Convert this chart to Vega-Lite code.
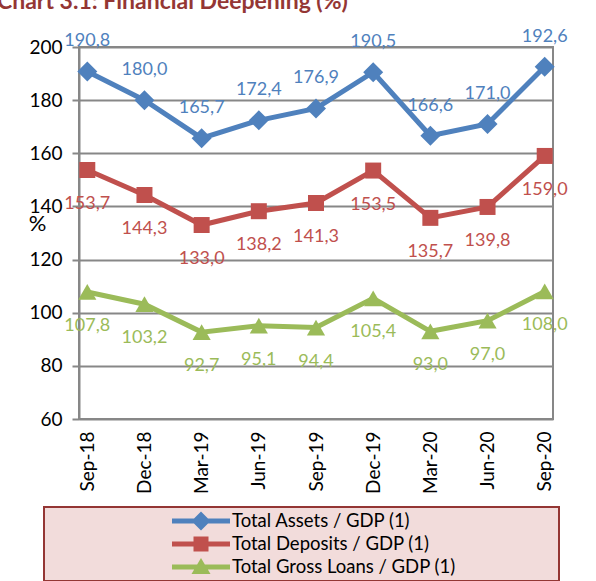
{
  "$schema": "https://vega.github.io/schema/vega-lite/v6.json",
  "width": 474,
  "height": 372,
  "autosize": {"type": "none"},
  "padding": {"left": 79, "top": 47, "right": 43, "bottom": 162},
  "background": "white",
  "title": {"text": "Chart 3.1: Financial Deepening (%)", "anchor": "start", "frame": "group", "dx": -82, "dy": -10, "fontSize": 23, "fontWeight": "bold", "color": "#943634", "font": "Lato"},
  "data": {"values": [
    {"date": "Sep-18", "series": "Total Assets / GDP (1)", "value": 190.8},
    {"date": "Dec-18", "series": "Total Assets / GDP (1)", "value": 180.0},
    {"date": "Mar-19", "series": "Total Assets / GDP (1)", "value": 165.7},
    {"date": "Jun-19", "series": "Total Assets / GDP (1)", "value": 172.4},
    {"date": "Sep-19", "series": "Total Assets / GDP (1)", "value": 176.9},
    {"date": "Dec-19", "series": "Total Assets / GDP (1)", "value": 190.5},
    {"date": "Mar-20", "series": "Total Assets / GDP (1)", "value": 166.6},
    {"date": "Jun-20", "series": "Total Assets / GDP (1)", "value": 171.0},
    {"date": "Sep-20", "series": "Total Assets / GDP (1)", "value": 192.6},
    {"date": "Sep-18", "series": "Total Deposits / GDP (1)", "value": 153.7},
    {"date": "Dec-18", "series": "Total Deposits / GDP (1)", "value": 144.3},
    {"date": "Mar-19", "series": "Total Deposits / GDP (1)", "value": 133.0},
    {"date": "Jun-19", "series": "Total Deposits / GDP (1)", "value": 138.2},
    {"date": "Sep-19", "series": "Total Deposits / GDP (1)", "value": 141.3},
    {"date": "Dec-19", "series": "Total Deposits / GDP (1)", "value": 153.5},
    {"date": "Mar-20", "series": "Total Deposits / GDP (1)", "value": 135.7},
    {"date": "Jun-20", "series": "Total Deposits / GDP (1)", "value": 139.8},
    {"date": "Sep-20", "series": "Total Deposits / GDP (1)", "value": 159.0},
    {"date": "Sep-18", "series": "Total Gross Loans / GDP (1)", "value": 107.8},
    {"date": "Dec-18", "series": "Total Gross Loans / GDP (1)", "value": 103.2},
    {"date": "Mar-19", "series": "Total Gross Loans / GDP (1)", "value": 92.7},
    {"date": "Jun-19", "series": "Total Gross Loans / GDP (1)", "value": 95.1},
    {"date": "Sep-19", "series": "Total Gross Loans / GDP (1)", "value": 94.4},
    {"date": "Dec-19", "series": "Total Gross Loans / GDP (1)", "value": 105.4},
    {"date": "Mar-20", "series": "Total Gross Loans / GDP (1)", "value": 93.0},
    {"date": "Jun-20", "series": "Total Gross Loans / GDP (1)", "value": 97.0},
    {"date": "Sep-20", "series": "Total Gross Loans / GDP (1)", "value": 108.0}
  ]},
  "encoding": {
    "x": {"field": "date", "type": "ordinal", "sort": null,
      "scale": {"type": "point", "padding": 0.145},
      "axis": {"title": null, "labelAngle": 270, "labelAlign": "right", "labelBaseline": "middle", "labelPadding": 12, "ticks": false, "domain": false, "grid": false, "labelFontSize": 19, "labelFont": "Lato", "labelColor": "black"}},
    "y": {"field": "value", "type": "quantitative",
      "scale": {"domain": [60, 200], "nice": false, "zero": false},
      "axis": {"values": [60, 80, 100, 120, 140, 160, 180, 200], "format": "d", "title": "%", "titleAngle": 0, "titleX": -42, "titleY": 176, "titleFontSize": 22, "titleFontWeight": "normal", "titleFont": "Lato", "titleColor": "black", "titleAlign": "center", "titleBaseline": "middle",
        "labelFontSize": 19, "labelFont": "Lato", "labelColor": "black", "labelPadding": 10, "tickSize": 7, "tickWidth": 2, "tickColor": "#878787", "domainColor": "#878787", "domainWidth": 2, "gridColor": "#878787", "gridWidth": 2}}
  },
  "layer": [
    {
      "mark": {"type": "line", "strokeWidth": 5},
      "encoding": {
        "color": {"field": "series", "type": "nominal",
          "scale": {"domain": ["Total Assets / GDP (1)", "Total Deposits / GDP (1)", "Total Gross Loans / GDP (1)"], "range": ["#4F81BD", "#C0504D", "#9BBB59"]},
          "legend": {
            "orient": "none", "legendX": -35, "legendY": 460, "direction": "vertical",
            "title": null,
            "fillColor": "#F2DCDB", "strokeColor": "#943634",
            "padding": 4, "rowPadding": 3,
            "symbolSize": 400, "symbolType": "circle",
            "labelFont": "Lato", "labelFontSize": 18.5, "labelColor": "black", "labelOffset": 164, "labelLimit": 400,
            "encode": {
              "legend": {"update": {"strokeWidth": {"value": 2}}},
              "symbols": {"update": {
                "shape": {"signal": "datum.value === 'Total Assets / GDP (1)' ? 'M11.4,-0.25H17.2V0.25H11.4Z M14.3,-0.95L15.25,0L14.3,0.95L13.35,0Z M49.7,0L49.7,0Z' : datum.value === 'Total Deposits / GDP (1)' ? 'M11.4,-0.25H17.2V0.25H11.4Z M13.55,-0.75H15.05V0.75H13.55Z M49.7,0L49.7,0Z' : 'M11.4,-0.25H17.2V0.25H11.4Z M14.3,-0.9L15.25,0.7L13.35,0.7Z M49.7,0L49.7,0Z'"},
                "fill": {"signal": "scale('color', datum.value)"},
                "fillOpacity": {"value": 1},
                "stroke": {"value": "transparent"},
                "strokeWidth": {"value": 0}
              }}
            }
          }}
      }
    },
    {
      "transform": [{"filter": "datum.series === 'Total Assets / GDP (1)'"}],
      "mark": {"type": "point", "filled": true, "opacity": 1, "shape": "diamond", "size": 400, "color": "#4F81BD"}
    },
    {
      "transform": [{"filter": "datum.series === 'Total Deposits / GDP (1)'"}],
      "mark": {"type": "point", "filled": true, "opacity": 1, "shape": "square", "size": 256, "color": "#C0504D"}
    },
    {
      "transform": [{"filter": "datum.series === 'Total Gross Loans / GDP (1)'"}],
      "mark": {"type": "point", "filled": true, "opacity": 1, "shape": "triangle-up", "size": 330, "color": "#9BBB59"}
    },
    {
      "transform": [{"filter": "datum.series === 'Total Assets / GDP (1)'"}],
      "mark": {"type": "text", "dy": -30, "fontSize": 18, "font": "Lato", "color": "#4F81BD"},
      "encoding": {"text": {"field": "value", "type": "quantitative", "format": ".1f"}}
    },
    {
      "transform": [{"filter": "datum.series === 'Total Deposits / GDP (1)'"}],
      "mark": {"type": "text", "dy": 34, "fontSize": 18, "font": "Lato", "color": "#C0504D"},
      "encoding": {"text": {"field": "value", "type": "quantitative", "format": ".1f"}}
    },
    {
      "transform": [{"filter": "datum.series === 'Total Gross Loans / GDP (1)'"}],
      "mark": {"type": "text", "dy": 34, "fontSize": 18, "font": "Lato", "color": "#9BBB59"},
      "encoding": {"text": {"field": "value", "type": "quantitative", "format": ".1f"}}
    }
  ],
  "config": {
    "locale": {"number": {"decimal": ",", "thousands": ".", "grouping": [3], "currency": ["", " €"]}},
    "view": {"stroke": "#878787", "strokeWidth": 2}
  }
}
